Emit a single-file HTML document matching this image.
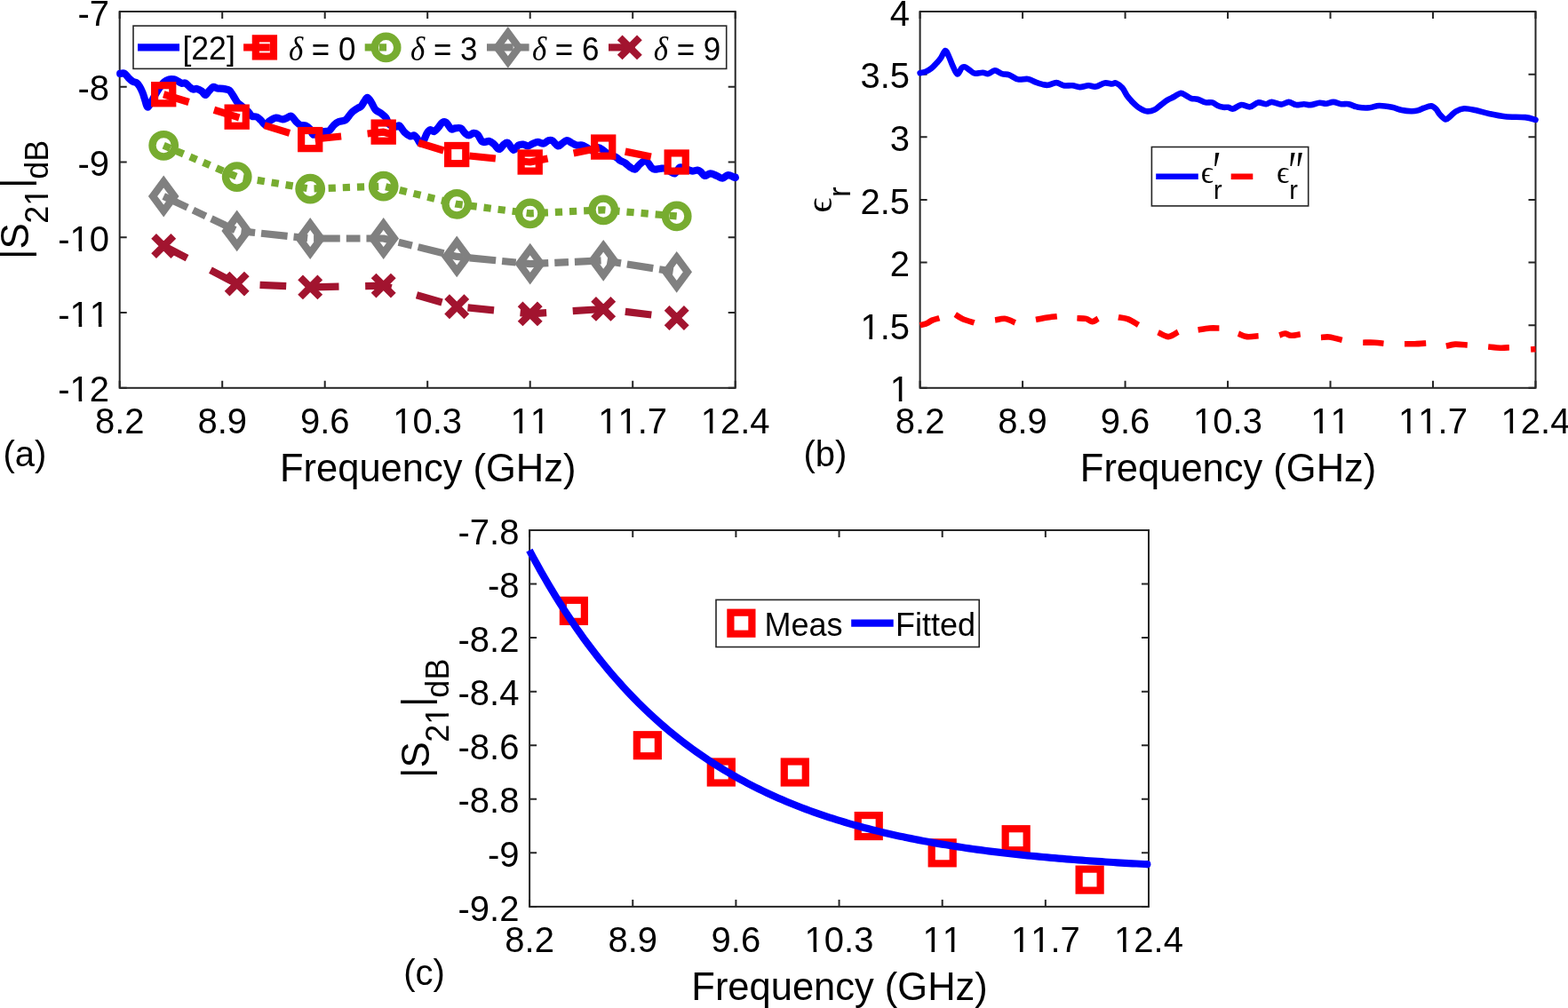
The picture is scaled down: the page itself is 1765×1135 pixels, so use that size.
<!DOCTYPE html><html><head><meta charset="utf-8"><title>Figure</title><style>html,body{margin:0;padding:0;background:#fff;}svg{display:block;}text{font-kerning:none;}</style></head><body>
<svg width="1765" height="1135" viewBox="0 0 1765 1135">
<rect width="1765" height="1135" fill="#fff"/>
<path d="M134.7,436.8V428.8M134.7,13V21M250.2,436.8V428.8M250.2,13V21M365.7,436.8V428.8M365.7,13V21M481.2,436.8V428.8M481.2,13V21M596.7,436.8V428.8M596.7,13V21M712.2,436.8V428.8M712.2,13V21M827.7,436.8V428.8M827.7,13V21M134.7,436.8H142.7M827.7,436.8H819.7M134.7,352.04H142.7M827.7,352.04H819.7M134.7,267.28H142.7M827.7,267.28H819.7M134.7,182.52H142.7M827.7,182.52H819.7M134.7,97.76H142.7M827.7,97.76H819.7M134.7,13H142.7M827.7,13H819.7" stroke="#262626" stroke-width="2" fill="none"/>
<rect x="134.7" y="13" width="693" height="423.8" stroke="#262626" stroke-width="2" fill="none"/>
<g font-family="'Liberation Sans', Arial, Helvetica, sans-serif" font-size="40" fill="#000"><text transform="translate(106.9,488.2) scale(1,1.035)">8.2</text><text transform="translate(222.4,488.2) scale(1,1.035)">8.9</text><text transform="translate(337.9,488.2) scale(1,1.035)">9.6</text><text transform="translate(442.27,488.2) scale(1,1.035)">10.3</text><g transform="translate(442.27,488.2) scale(1,1.035)" fill="#fff"><rect x="2.25" y="-3.34" width="7.78" height="4.54"/><rect x="13.62" y="-3.34" width="7.5" height="4.54"/></g><text transform="translate(574.45,488.2) scale(1,1.035)">11</text><g transform="translate(574.45,488.2) scale(1,1.035)" fill="#fff"><rect x="2.25" y="-3.34" width="7.78" height="4.54"/><rect x="13.62" y="-3.34" width="7.5" height="4.54"/><rect x="24.5" y="-3.34" width="7.78" height="4.54"/><rect x="35.87" y="-3.34" width="7.5" height="4.54"/></g><text transform="translate(673.27,488.2) scale(1,1.035)">11.7</text><g transform="translate(673.27,488.2) scale(1,1.035)" fill="#fff"><rect x="2.25" y="-3.34" width="7.78" height="4.54"/><rect x="13.62" y="-3.34" width="7.5" height="4.54"/><rect x="24.5" y="-3.34" width="7.78" height="4.54"/><rect x="35.87" y="-3.34" width="7.5" height="4.54"/></g><text transform="translate(788.77,488.2) scale(1,1.035)">12.4</text><g transform="translate(788.77,488.2) scale(1,1.035)" fill="#fff"><rect x="2.25" y="-3.34" width="7.78" height="4.54"/><rect x="13.62" y="-3.34" width="7.5" height="4.54"/></g><text transform="translate(65.27,452.4) scale(1,1.035)">-12</text><g transform="translate(65.27,452.4) scale(1,1.035)" fill="#fff"><rect x="15.58" y="-3.34" width="7.78" height="4.54"/><rect x="26.95" y="-3.34" width="7.5" height="4.54"/></g><text transform="translate(65.27,367.64) scale(1,1.035)">-11</text><g transform="translate(65.27,367.64) scale(1,1.035)" fill="#fff"><rect x="15.58" y="-3.34" width="7.78" height="4.54"/><rect x="26.95" y="-3.34" width="7.5" height="4.54"/><rect x="37.83" y="-3.34" width="7.78" height="4.54"/><rect x="49.2" y="-3.34" width="7.5" height="4.54"/></g><text transform="translate(65.27,282.88) scale(1,1.035)">-10</text><g transform="translate(65.27,282.88) scale(1,1.035)" fill="#fff"><rect x="15.58" y="-3.34" width="7.78" height="4.54"/><rect x="26.95" y="-3.34" width="7.5" height="4.54"/></g><text transform="translate(87.52,198.12) scale(1,1.035)">-9</text><text transform="translate(87.52,113.36) scale(1,1.035)">-8</text><text transform="translate(87.52,28.6) scale(1,1.035)">-7</text></g>
<text transform="translate(481.7,542.1) scale(1,1.035)" font-family="'Liberation Sans', Arial, Helvetica, sans-serif" font-size="43.5" text-anchor="middle">Frequency (GHz)</text>
<g>
<path d="M135.2,82.9C136,82.85 138.42,81.8 140,82.6C141.58,83.4 143.12,86.17 144.7,87.7C146.28,89.23 148.02,90.9 149.5,91.8C150.98,92.7 152.35,92.2 153.6,93.1C154.85,94 155.87,95.38 157,97.2C158.13,99.02 159.38,101.52 160.4,104C161.42,106.48 162.2,109.38 163.1,112.1C164,114.82 164.78,119.5 165.8,120.3C166.82,121.1 167.83,118.95 169.2,116.9C170.57,114.85 172.3,110.95 174,108C175.7,105.05 177.6,101.8 179.4,99.2C181.2,96.6 182.98,94.03 184.8,92.4C186.62,90.77 188.48,89.9 190.3,89.4C192.12,88.9 194.12,89.12 195.7,89.4C197.28,89.68 198.33,90.37 199.8,91.1C201.27,91.83 203.03,93.4 204.5,93.8C205.97,94.2 207.12,92.82 208.6,93.5C210.08,94.18 211.92,96.72 213.4,97.9C214.88,99.08 216.15,100.27 217.5,100.6C218.85,100.93 219.92,99.57 221.5,99.9C223.08,100.23 225.42,101.42 227,102.6C228.58,103.78 229.65,107 231,107C232.35,107 233.62,104.12 235.1,102.6C236.58,101.08 238.33,98.42 239.9,97.9C241.47,97.38 242.67,99.17 244.5,99.5C246.33,99.83 248.63,99.53 250.9,99.9C253.17,100.27 256.13,100.33 258.1,101.7C260.07,103.07 261.18,105.83 262.7,108.1C264.22,110.37 265.55,113.33 267.2,115.3C268.85,117.27 270.63,118.23 272.6,119.9C274.57,121.57 277.18,123.5 279,125.3C280.82,127.1 281.83,129.65 283.5,130.7C285.17,131.75 287.33,130.83 289,131.6C290.67,132.37 291.85,133.78 293.5,135.3C295.15,136.82 297.23,140.55 298.9,140.7C300.57,140.85 301.53,137.55 303.5,136.2C305.47,134.85 308.28,132.9 310.7,132.6C313.12,132.3 315.88,134.4 318,134.4C320.12,134.4 321.75,133.22 323.4,132.6C325.05,131.98 326.23,129.95 327.9,130.7C329.57,131.45 331.73,135.43 333.4,137.1C335.07,138.77 336.08,139.95 337.9,140.7C339.72,141.45 342.48,140.85 344.3,141.6C346.12,142.35 347.45,143.53 348.8,145.2C350.15,146.87 350.88,150.83 352.4,151.6C353.92,152.37 355.78,150.4 357.9,149.8C360.02,149.2 362.98,148.45 365.1,148C367.22,147.55 368.78,148.32 370.6,147.1C372.42,145.88 374.2,142.37 376,140.7C377.8,139.03 379.28,138 381.4,137.1C383.52,136.2 386.58,136.67 388.7,135.3C390.82,133.93 392.67,130.57 394.1,128.9C395.53,127.23 395.87,126.5 397.3,125.3C398.73,124.1 401.2,122.6 402.7,121.7C404.2,120.8 405.1,121.1 406.3,119.9C407.5,118.7 408.68,116.17 409.9,114.5C411.12,112.83 412.23,109.75 413.6,109.9C414.97,110.05 416.6,113.13 418.1,115.4C419.6,117.67 420.93,121.55 422.6,123.5C424.27,125.45 426.13,125.58 428.1,127.1C430.07,128.62 432.75,130.48 434.4,132.6C436.05,134.72 436.07,138.15 438,139.8C439.93,141.45 444.03,142.2 446,142.5C447.97,142.8 448.25,140.53 449.8,141.6C451.35,142.67 453.33,146.93 455.3,148.9C457.27,150.87 459.78,152.8 461.6,153.4C463.42,154 464.83,152.03 466.2,152.5C467.57,152.97 468.6,154.68 469.8,156.2C471,157.72 472.2,161.3 473.4,161.6C474.6,161.9 475.78,159.97 477,158C478.22,156.03 479.48,151.77 480.7,149.8C481.92,147.83 482.95,146.5 484.3,146.2C485.65,145.9 487.28,148.45 488.8,148C490.32,147.55 491.88,145.17 493.4,143.5C494.92,141.83 496.4,138.92 497.9,138C499.4,137.08 500.73,136.78 502.4,138C504.07,139.22 506.23,144.23 507.9,145.3C509.57,146.37 510.6,144.55 512.4,144.4C514.2,144.25 516.88,143.5 518.7,144.4C520.52,145.3 521.78,148.45 523.3,149.8C524.82,151.15 526.15,152.5 527.8,152.5C529.45,152.5 531.53,149.95 533.2,149.8C534.87,149.65 536.13,149.93 537.8,151.6C539.47,153.27 541.02,158.57 543.2,159.8C545.38,161.03 548.72,158.53 550.9,159C553.08,159.47 554.48,161.1 556.3,162.6C558.12,164.1 559.98,168 561.8,168C563.62,168 565.55,163.8 567.2,162.6C568.85,161.4 569.88,159.75 571.7,160.8C573.52,161.85 576.13,168.45 578.1,168.9C580.07,169.35 581.68,164.55 583.5,163.5C585.32,162.45 587.18,162.45 589,162.6C590.82,162.75 592.6,164.55 594.4,164.4C596.2,164.25 597.98,162.45 599.8,161.7C601.62,160.95 603.33,159.9 605.3,159.9C607.27,159.9 609.63,161.97 611.6,161.7C613.57,161.43 615.43,158.87 617.1,158.3C618.77,157.73 619.8,157.28 621.6,158.3C623.4,159.32 626.08,163.83 627.9,164.4C629.72,164.97 630.83,162.77 632.5,161.7C634.17,160.63 636.08,158.15 637.9,158C639.72,157.85 641.58,159.88 643.4,160.8C645.22,161.72 646.85,163.05 648.8,163.5C650.75,163.95 653.13,163.05 655.1,163.5C657.07,163.95 658.63,165.15 660.6,166.2C662.57,167.25 664.78,169.8 666.9,169.8C669.02,169.8 671.33,166.35 673.3,166.2C675.27,166.05 676.83,167.68 678.7,168.9C680.57,170.12 682.02,172.13 684.5,173.5C686.98,174.87 691.33,175.88 693.6,177.1C695.87,178.32 696.43,179.73 698.1,180.8C699.77,181.87 701.78,182.3 703.6,183.5C705.42,184.7 707.18,186.8 709,188C710.82,189.2 712.83,191 714.5,190.7C716.17,190.4 717.35,187.7 719,186.2C720.65,184.7 722.73,182.3 724.4,181.7C726.07,181.1 727.48,181.4 729,182.6C730.52,183.8 732.15,187.55 733.5,188.9C734.85,190.25 735.43,190.55 737.1,190.7C738.77,190.85 741.53,189.95 743.5,189.8C745.47,189.65 746.95,189.18 748.9,189.8C750.85,190.42 753.38,192.58 755.2,193.5C757.02,194.42 758.13,196.13 759.8,195.3C761.47,194.47 763.5,189.38 765.2,188.5C766.9,187.62 768.18,189.48 770,190C771.82,190.52 774.48,191.17 776.1,191.6C777.72,192.03 778.18,192.6 779.7,192.6C781.22,192.6 783.68,191.45 785.2,191.6C786.72,191.75 787.45,192.43 788.8,193.5C790.15,194.57 791.48,197.7 793.3,198C795.12,198.3 797.43,195.3 799.7,195.3C801.97,195.3 804.63,197.1 806.9,198C809.17,198.9 811.18,200.85 813.3,200.7C815.42,200.55 817.33,197.25 819.6,197.1C821.87,196.95 825.55,199.38 826.9,199.8C828.25,200.22 827.57,199.63 827.7,199.6" fill="none" stroke="#0000ff" stroke-width="8.2" stroke-linecap="round" stroke-linejoin="round"/>
<polyline points="184.2,106.24 266.7,131.66 349.2,157.09 431.7,148.62 514.2,174.04 596.7,182.52 679.2,165.57 761.7,182.52" fill="none" stroke="#ff0000" stroke-width="8.2" stroke-linecap="butt" stroke-linejoin="round" stroke-dasharray="29.7,29.65" stroke-dashoffset="0"/>
<rect x="174.13" y="96.17" width="20.14" height="20.14" fill="none" stroke="#ff0000" stroke-width="8.2"/>
<rect x="256.63" y="121.59" width="20.14" height="20.14" fill="none" stroke="#ff0000" stroke-width="8.2"/>
<rect x="339.13" y="147.02" width="20.14" height="20.14" fill="none" stroke="#ff0000" stroke-width="8.2"/>
<rect x="421.63" y="138.55" width="20.14" height="20.14" fill="none" stroke="#ff0000" stroke-width="8.2"/>
<rect x="504.13" y="163.97" width="20.14" height="20.14" fill="none" stroke="#ff0000" stroke-width="8.2"/>
<rect x="586.63" y="172.45" width="20.14" height="20.14" fill="none" stroke="#ff0000" stroke-width="8.2"/>
<rect x="669.13" y="155.5" width="20.14" height="20.14" fill="none" stroke="#ff0000" stroke-width="8.2"/>
<rect x="751.63" y="172.45" width="20.14" height="20.14" fill="none" stroke="#ff0000" stroke-width="8.2"/>
<polyline points="184.2,163.8 266.7,199.1 349.2,212.6 431.7,209.6 514.2,229.8 596.7,240.3 679.2,236.3 761.7,243.4" fill="none" stroke="#77ac30" stroke-width="8.2" stroke-linecap="butt" stroke-linejoin="round" stroke-dasharray="8.2,7.95" stroke-dashoffset="0"/>
<circle cx="184.2" cy="163.8" r="12.7" fill="none" stroke="#77ac30" stroke-width="8.4"/>
<circle cx="266.7" cy="199.1" r="12.7" fill="none" stroke="#77ac30" stroke-width="8.4"/>
<circle cx="349.2" cy="212.6" r="12.7" fill="none" stroke="#77ac30" stroke-width="8.4"/>
<circle cx="431.7" cy="209.6" r="12.7" fill="none" stroke="#77ac30" stroke-width="8.4"/>
<circle cx="514.2" cy="229.8" r="12.7" fill="none" stroke="#77ac30" stroke-width="8.4"/>
<circle cx="596.7" cy="240.3" r="12.7" fill="none" stroke="#77ac30" stroke-width="8.4"/>
<circle cx="679.2" cy="236.3" r="12.7" fill="none" stroke="#77ac30" stroke-width="8.4"/>
<circle cx="761.7" cy="243.4" r="12.7" fill="none" stroke="#77ac30" stroke-width="8.4"/>
<polyline points="184.2,221 266.7,259.9 349.2,268.5 431.7,268.5 514.2,288.9 596.7,297.1 679.2,293.3 761.7,306.3" fill="none" stroke="#808080" stroke-width="8.2" stroke-linecap="butt" stroke-linejoin="round" stroke-dasharray="29.7,7,15.7,6.95" stroke-dashoffset="0"/>
<path d="M184.2,204.5L196.4,221L184.2,237.5L172,221Z" fill="none" stroke="#808080" stroke-width="8.2" stroke-linejoin="miter" stroke-miterlimit="10"/>
<path d="M266.7,243.4L278.9,259.9L266.7,276.4L254.5,259.9Z" fill="none" stroke="#808080" stroke-width="8.2" stroke-linejoin="miter" stroke-miterlimit="10"/>
<path d="M349.2,252L361.4,268.5L349.2,285L337,268.5Z" fill="none" stroke="#808080" stroke-width="8.2" stroke-linejoin="miter" stroke-miterlimit="10"/>
<path d="M431.7,252L443.9,268.5L431.7,285L419.5,268.5Z" fill="none" stroke="#808080" stroke-width="8.2" stroke-linejoin="miter" stroke-miterlimit="10"/>
<path d="M514.2,272.4L526.4,288.9L514.2,305.4L502,288.9Z" fill="none" stroke="#808080" stroke-width="8.2" stroke-linejoin="miter" stroke-miterlimit="10"/>
<path d="M596.7,280.6L608.9,297.1L596.7,313.6L584.5,297.1Z" fill="none" stroke="#808080" stroke-width="8.2" stroke-linejoin="miter" stroke-miterlimit="10"/>
<path d="M679.2,276.8L691.4,293.3L679.2,309.8L667,293.3Z" fill="none" stroke="#808080" stroke-width="8.2" stroke-linejoin="miter" stroke-miterlimit="10"/>
<path d="M761.7,289.8L773.9,306.3L761.7,322.8L749.5,306.3Z" fill="none" stroke="#808080" stroke-width="8.2" stroke-linejoin="miter" stroke-miterlimit="10"/>
<polyline points="184.2,277 266.7,319.6 349.2,323.4 431.7,321.6 514.2,345.2 596.7,353.4 679.2,347.9 761.7,358" fill="none" stroke="#a2142f" stroke-width="8.2" stroke-linecap="butt" stroke-linejoin="round" stroke-dasharray="29.7,29.65" stroke-dashoffset="0"/>
<path d="M173.1,265.9L195.3,288.1M173.1,288.1L195.3,265.9" fill="none" stroke="#a2142f" stroke-width="8.1" stroke-linecap="butt"/>
<path d="M255.6,308.5L277.8,330.7M255.6,330.7L277.8,308.5" fill="none" stroke="#a2142f" stroke-width="8.1" stroke-linecap="butt"/>
<path d="M338.1,312.3L360.3,334.5M338.1,334.5L360.3,312.3" fill="none" stroke="#a2142f" stroke-width="8.1" stroke-linecap="butt"/>
<path d="M420.6,310.5L442.8,332.7M420.6,332.7L442.8,310.5" fill="none" stroke="#a2142f" stroke-width="8.1" stroke-linecap="butt"/>
<path d="M503.1,334.1L525.3,356.3M503.1,356.3L525.3,334.1" fill="none" stroke="#a2142f" stroke-width="8.1" stroke-linecap="butt"/>
<path d="M585.6,342.3L607.8,364.5M585.6,364.5L607.8,342.3" fill="none" stroke="#a2142f" stroke-width="8.1" stroke-linecap="butt"/>
<path d="M668.1,336.8L690.3,359M668.1,359L690.3,336.8" fill="none" stroke="#a2142f" stroke-width="8.1" stroke-linecap="butt"/>
<path d="M750.6,346.9L772.8,369.1M750.6,369.1L772.8,346.9" fill="none" stroke="#a2142f" stroke-width="8.1" stroke-linecap="butt"/>
</g>
<rect x="150" y="29.1" width="667.7" height="48.3" fill="#fff" stroke="#262626" stroke-width="1.6"/>
<polyline points="155,53.4 202,53.4" fill="none" stroke="#0000ff" stroke-width="8.2" stroke-linecap="butt" stroke-linejoin="round"/>
<text transform="translate(205.4,66.8) scale(1,1.035)" font-family="'Liberation Sans', Arial, Helvetica, sans-serif" font-size="35.6">[22]</text>
<polyline points="274.1,53.4 321.7,53.4" fill="none" stroke="#ff0000" stroke-width="8.2" stroke-linecap="butt" stroke-linejoin="round" stroke-dasharray="29.7,29.65" stroke-dashoffset="0"/>
<rect x="287.83" y="43.33" width="20.14" height="20.14" fill="none" stroke="#ff0000" stroke-width="8.2"/>
<text transform="translate(324.9,68.2) scale(0.981,1.045)" font-family="'Liberation Sans', Arial, Helvetica, sans-serif" font-size="35.6"><tspan font-family="'Liberation Serif', 'Times New Roman', serif" font-style="italic">δ</tspan> = 0</text>
<polyline points="410.7,53.4 458.3,53.4" fill="none" stroke="#77ac30" stroke-width="8.2" stroke-linecap="butt" stroke-linejoin="round" stroke-dasharray="8.2,7.95" stroke-dashoffset="0"/>
<circle cx="434.5" cy="53.4" r="12.7" fill="none" stroke="#77ac30" stroke-width="8.4"/>
<text transform="translate(462,68.2) scale(0.981,1.045)" font-family="'Liberation Sans', Arial, Helvetica, sans-serif" font-size="35.6"><tspan font-family="'Liberation Serif', 'Times New Roman', serif" font-style="italic">δ</tspan> = 3</text>
<polyline points="548,53.4 595.6,53.4" fill="none" stroke="#808080" stroke-width="8.2" stroke-linecap="butt" stroke-linejoin="round" stroke-dasharray="29.7,7,15.7,6.95" stroke-dashoffset="0"/>
<path d="M571.8,36.9L584,53.4L571.8,69.9L559.6,53.4Z" fill="none" stroke="#808080" stroke-width="8.2" stroke-linejoin="miter" stroke-miterlimit="10"/>
<text transform="translate(598.9,68.2) scale(0.981,1.045)" font-family="'Liberation Sans', Arial, Helvetica, sans-serif" font-size="35.6"><tspan font-family="'Liberation Serif', 'Times New Roman', serif" font-style="italic">δ</tspan> = 6</text>
<polyline points="685,53.4 732.6,53.4" fill="none" stroke="#a2142f" stroke-width="8.2" stroke-linecap="butt" stroke-linejoin="round" stroke-dasharray="29.7,29.65" stroke-dashoffset="0"/>
<path d="M697.7,42.3L719.9,64.5M697.7,64.5L719.9,42.3" fill="none" stroke="#a2142f" stroke-width="8.1" stroke-linecap="butt"/>
<text transform="translate(735.8,68.2) scale(0.981,1.045)" font-family="'Liberation Sans', Arial, Helvetica, sans-serif" font-size="35.6"><tspan font-family="'Liberation Serif', 'Times New Roman', serif" font-style="italic">δ</tspan> = 9</text>
<g transform="translate(0,0) rotate(-90)" font-family="'Liberation Sans', Arial, Helvetica, sans-serif"><text x="-292.0" y="32.3" font-size="44">|S</text><text transform="translate(-251.7,53.9)" font-size="36">21</text><g transform="translate(-251.7,53.9)" fill="#fff"><rect x="21.96" y="-3.04" width="7.08" height="4.24"/><rect x="32.28" y="-3.04" width="6.83" height="4.24"/></g><text x="-212.0" y="32.3" font-size="44">|</text><text x="-201.7" y="53.9" font-size="36">dB</text></g>
<text x="3.5" y="525.3" font-family="'Liberation Sans', Arial, Helvetica, sans-serif" font-size="40">(a)</text>
<path d="M1035.6,436.8V428.8M1035.6,13V21M1151.08,436.8V428.8M1151.08,13V21M1266.57,436.8V428.8M1266.57,13V21M1382.05,436.8V428.8M1382.05,13V21M1497.53,436.8V428.8M1497.53,13V21M1613.02,436.8V428.8M1613.02,13V21M1728.5,436.8V428.8M1728.5,13V21M1035.6,436.8H1043.6M1728.5,436.8H1720.5M1035.6,366.17H1043.6M1728.5,366.17H1720.5M1035.6,295.53H1043.6M1728.5,295.53H1720.5M1035.6,224.9H1043.6M1728.5,224.9H1720.5M1035.6,154.27H1043.6M1728.5,154.27H1720.5M1035.6,83.63H1043.6M1728.5,83.63H1720.5M1035.6,13H1043.6M1728.5,13H1720.5" stroke="#262626" stroke-width="2" fill="none"/>
<rect x="1035.6" y="13" width="692.9" height="423.8" stroke="#262626" stroke-width="2" fill="none"/>
<g font-family="'Liberation Sans', Arial, Helvetica, sans-serif" font-size="40" fill="#000"><text transform="translate(1007.8,488.2) scale(1,1.035)">8.2</text><text transform="translate(1123.28,488.2) scale(1,1.035)">8.9</text><text transform="translate(1238.76,488.2) scale(1,1.035)">9.6</text><text transform="translate(1343.12,488.2) scale(1,1.035)">10.3</text><g transform="translate(1343.12,488.2) scale(1,1.035)" fill="#fff"><rect x="2.25" y="-3.34" width="7.78" height="4.54"/><rect x="13.62" y="-3.34" width="7.5" height="4.54"/></g><text transform="translate(1475.28,488.2) scale(1,1.035)">11</text><g transform="translate(1475.28,488.2) scale(1,1.035)" fill="#fff"><rect x="2.25" y="-3.34" width="7.78" height="4.54"/><rect x="13.62" y="-3.34" width="7.5" height="4.54"/><rect x="24.5" y="-3.34" width="7.78" height="4.54"/><rect x="35.87" y="-3.34" width="7.5" height="4.54"/></g><text transform="translate(1574.09,488.2) scale(1,1.035)">11.7</text><g transform="translate(1574.09,488.2) scale(1,1.035)" fill="#fff"><rect x="2.25" y="-3.34" width="7.78" height="4.54"/><rect x="13.62" y="-3.34" width="7.5" height="4.54"/><rect x="24.5" y="-3.34" width="7.78" height="4.54"/><rect x="35.87" y="-3.34" width="7.5" height="4.54"/></g><text transform="translate(1689.57,488.2) scale(1,1.035)">12.4</text><g transform="translate(1689.57,488.2) scale(1,1.035)" fill="#fff"><rect x="2.25" y="-3.34" width="7.78" height="4.54"/><rect x="13.62" y="-3.34" width="7.5" height="4.54"/></g><text transform="translate(1001.75,452.4) scale(1,1.035)">1</text><g transform="translate(1001.75,452.4) scale(1,1.035)" fill="#fff"><rect x="2.25" y="-3.34" width="7.78" height="4.54"/><rect x="13.62" y="-3.34" width="7.5" height="4.54"/></g><text transform="translate(968.39,381.77) scale(1,1.035)">1.5</text><g transform="translate(968.39,381.77) scale(1,1.035)" fill="#fff"><rect x="2.25" y="-3.34" width="7.78" height="4.54"/><rect x="13.62" y="-3.34" width="7.5" height="4.54"/></g><text transform="translate(1001.75,311.13) scale(1,1.035)">2</text><text transform="translate(968.39,240.5) scale(1,1.035)">2.5</text><text transform="translate(1001.75,169.87) scale(1,1.035)">3</text><text transform="translate(968.39,99.23) scale(1,1.035)">3.5</text><text transform="translate(1001.75,28.6) scale(1,1.035)">4</text></g>
<text transform="translate(1382.55,542.1) scale(1,1.035)" font-family="'Liberation Sans', Arial, Helvetica, sans-serif" font-size="43.5" text-anchor="middle">Frequency (GHz)</text>
<path d="M1035.6,82.2C1036.63,81.97 1039.72,81.63 1041.8,80.8C1043.88,79.97 1045.98,78.87 1048.1,77.2C1050.22,75.53 1052.68,72.77 1054.5,70.8C1056.32,68.83 1057.42,67.68 1059,65.4C1060.58,63.12 1062.48,57.4 1064,57.1C1065.52,56.8 1066.67,60.7 1068.1,63.6C1069.53,66.5 1071.02,71.18 1072.6,74.5C1074.18,77.82 1075.93,83.2 1077.6,83.5C1079.27,83.8 1081.17,77.65 1082.6,76.3C1084.03,74.95 1084.7,74.95 1086.2,75.4C1087.7,75.85 1089.78,77.8 1091.6,79C1093.42,80.2 1094.67,82.15 1097.1,82.6C1099.53,83.05 1103.63,81.62 1106.2,81.7C1108.77,81.78 1110.23,83.48 1112.5,83.1C1114.77,82.72 1117.23,79.4 1119.8,79.4C1122.37,79.4 1125.18,82.27 1127.9,83.1C1130.62,83.93 1133.08,83.35 1136.1,84.4C1139.12,85.45 1142.53,88.63 1146,89.4C1149.47,90.17 1153.57,88.47 1156.9,89C1160.23,89.53 1163.28,91.62 1166,92.6C1168.72,93.58 1170.93,94.37 1173.2,94.9C1175.47,95.43 1176.95,96.1 1179.6,95.8C1182.25,95.5 1186.17,93.02 1189.1,93.1C1192.03,93.18 1194.18,95.77 1197.2,96.3C1200.22,96.83 1204.17,96 1207.2,96.3C1210.23,96.6 1212.38,98.1 1215.4,98.1C1218.42,98.1 1222.28,96.38 1225.3,96.3C1228.32,96.22 1230.47,98.07 1233.5,97.6C1236.53,97.13 1240.48,94.02 1243.5,93.5C1246.52,92.98 1249.48,94.5 1251.6,94.5C1253.72,94.5 1254.23,92.75 1256.2,93.5C1258.17,94.25 1261.3,96.58 1263.4,99C1265.5,101.42 1266.83,105.28 1268.8,108C1270.77,110.72 1272.93,113.03 1275.2,115.3C1277.47,117.57 1279.83,119.93 1282.4,121.6C1284.97,123.27 1287.72,124.98 1290.6,125.3C1293.48,125.62 1296.98,124.72 1299.7,123.5C1302.42,122.28 1304.48,119.82 1306.9,118C1309.32,116.18 1311.78,114.1 1314.2,112.6C1316.62,111.1 1318.98,110.28 1321.4,109C1323.82,107.72 1326.52,105.2 1328.7,104.9C1330.88,104.6 1332.47,106.22 1334.5,107.2C1336.53,108.18 1338.63,110.05 1340.9,110.8C1343.17,111.55 1345.38,110.93 1348.1,111.7C1350.82,112.47 1354.47,114.78 1357.2,115.4C1359.93,116.02 1362.23,114.8 1364.5,115.4C1366.77,116 1368.7,118.1 1370.8,119C1372.9,119.9 1375.13,120.5 1377.1,120.8C1379.07,121.1 1380.78,120.5 1382.6,120.8C1384.42,121.1 1385.58,123.05 1388,122.6C1390.42,122.15 1393.92,118.48 1397.1,118.1C1400.28,117.72 1403.93,120.75 1407.1,120.3C1410.27,119.85 1413.08,115.92 1416.1,115.4C1419.12,114.88 1422.63,117.28 1425.2,117.2C1427.77,117.12 1428.63,114.83 1431.5,114.9C1434.37,114.97 1439.22,117.6 1442.4,117.6C1445.58,117.6 1447.88,114.82 1450.6,114.9C1453.32,114.98 1455.83,117.72 1458.7,118.1C1461.57,118.48 1465.07,117.2 1467.8,117.2C1470.53,117.2 1472.17,118.33 1475.1,118.1C1478.03,117.87 1482.47,116.03 1485.4,115.8C1488.33,115.57 1490.12,116.85 1492.7,116.7C1495.28,116.55 1498.03,114.82 1500.9,114.9C1503.77,114.98 1507.03,116.82 1509.9,117.2C1512.77,117.58 1514.92,116.6 1518.1,117.2C1521.28,117.8 1525.08,120.12 1529,120.8C1532.92,121.48 1537.68,121.6 1541.6,121.3C1545.52,121 1548.27,119.08 1552.5,119C1556.73,118.92 1562.77,119.97 1567,120.8C1571.23,121.63 1574.27,123.25 1577.9,124C1581.53,124.75 1585.78,125.23 1588.8,125.3C1591.82,125.37 1593.68,125 1596,124.4C1598.32,123.8 1600.22,122.53 1602.7,121.7C1605.18,120.87 1608.63,119.25 1610.9,119.4C1613.17,119.55 1614.65,121 1616.3,122.6C1617.95,124.2 1618.98,127.03 1620.8,129C1622.62,130.97 1625.23,134.1 1627.2,134.4C1629.17,134.7 1630.63,132.32 1632.6,130.8C1634.57,129.28 1636.43,126.73 1639,125.3C1641.57,123.87 1644.38,122.42 1648,122.2C1651.62,121.98 1656.02,123.03 1660.7,124C1665.38,124.97 1670.5,126.8 1676.1,128C1681.7,129.2 1687.5,130.52 1694.3,131.2C1701.1,131.88 1711.2,131.48 1716.9,132.1C1722.6,132.72 1726.57,134.43 1728.5,134.9" fill="none" stroke="#0000ff" stroke-width="6.6" stroke-linecap="round" stroke-linejoin="round"/>
<path d="M1035.7,366.3C1037.02,365.92 1041.33,364.95 1043.6,364C1045.87,363.05 1047,361.58 1049.3,360.6C1051.6,359.62 1056.05,358.52 1057.4,358.1" fill="none" stroke="#ff0000" stroke-width="6.6" stroke-linecap="butt" stroke-linejoin="round"/>
<path d="M1075.3,354C1076.63,354.82 1079.75,357.33 1083.3,358.9C1086.85,360.47 1094.38,362.65 1096.6,363.4" fill="none" stroke="#ff0000" stroke-width="6.6" stroke-linecap="butt" stroke-linejoin="round"/>
<path d="M1120.1,360.4C1122.08,360.15 1128.23,358.4 1132,358.9C1135.77,359.4 1140.92,362.65 1142.7,363.4" fill="none" stroke="#ff0000" stroke-width="6.6" stroke-linecap="butt" stroke-linejoin="round"/>
<path d="M1166,360C1167.88,359.63 1173.33,358.42 1177.3,357.8C1181.27,357.18 1187.72,356.55 1189.8,356.3" fill="none" stroke="#ff0000" stroke-width="6.6" stroke-linecap="butt" stroke-linejoin="round"/>
<path d="M1212.4,358.3C1214.1,358.4 1219.73,358.27 1222.6,358.9C1225.47,359.53 1227.35,362.13 1229.6,362.1C1231.85,362.07 1235.02,359.27 1236.1,358.7" fill="none" stroke="#ff0000" stroke-width="6.6" stroke-linecap="butt" stroke-linejoin="round"/>
<path d="M1258.9,357.2C1260.73,357.55 1266.13,357.87 1269.9,359.3C1273.67,360.73 1279.57,364.72 1281.5,365.8" fill="none" stroke="#ff0000" stroke-width="6.6" stroke-linecap="butt" stroke-linejoin="round"/>
<path d="M1303.6,374.2C1305.53,375.02 1311.43,379.17 1315.2,379.1C1318.97,379.03 1324.37,374.68 1326.2,373.8" fill="none" stroke="#ff0000" stroke-width="6.6" stroke-linecap="butt" stroke-linejoin="round"/>
<path d="M1348.6,371.5C1350.77,371.17 1357.63,369.83 1361.6,369.5C1365.57,369.17 1370.6,369.5 1372.4,369.5" fill="none" stroke="#ff0000" stroke-width="6.6" stroke-linecap="butt" stroke-linejoin="round"/>
<path d="M1393.9,375.7C1395.52,376.27 1399.82,378.67 1403.6,379.1C1407.38,379.53 1414.43,378.43 1416.6,378.3" fill="none" stroke="#ff0000" stroke-width="6.6" stroke-linecap="butt" stroke-linejoin="round"/>
<path d="M1440.2,377.5C1441.25,377.17 1444.32,375.45 1446.5,375.5C1448.68,375.55 1450.43,377.67 1453.3,377.8C1456.17,377.93 1461.97,376.55 1463.7,376.3" fill="none" stroke="#ff0000" stroke-width="6.6" stroke-linecap="butt" stroke-linejoin="round"/>
<path d="M1487,380C1488.55,379.92 1492.35,379.02 1496.3,379.5C1500.25,379.98 1508.3,382.33 1510.7,382.9" fill="none" stroke="#ff0000" stroke-width="6.6" stroke-linecap="butt" stroke-linejoin="round"/>
<path d="M1534.2,385.7C1536.38,385.7 1543.42,385.52 1547.3,385.7C1551.18,385.88 1555.8,386.62 1557.5,386.8" fill="none" stroke="#ff0000" stroke-width="6.6" stroke-linecap="butt" stroke-linejoin="round"/>
<path d="M1581,387.2C1582.95,387.2 1588.67,387.32 1592.7,387.2C1596.73,387.08 1603.12,386.62 1605.2,386.5" fill="none" stroke="#ff0000" stroke-width="6.6" stroke-linecap="butt" stroke-linejoin="round"/>
<path d="M1627.9,389.7C1629.58,389.35 1634.02,387.8 1638,387.6C1641.98,387.4 1649.5,388.35 1651.8,388.5" fill="none" stroke="#ff0000" stroke-width="6.6" stroke-linecap="butt" stroke-linejoin="round"/>
<path d="M1675.2,390.5C1677.47,390.7 1684.85,391.57 1688.8,391.7C1692.75,391.83 1697.22,391.37 1698.9,391.3" fill="none" stroke="#ff0000" stroke-width="6.6" stroke-linecap="butt" stroke-linejoin="round"/>
<path d="M1723.1,393.5C1724,393.43 1727.6,393.17 1728.5,393.1" fill="none" stroke="#ff0000" stroke-width="6.6" stroke-linecap="butt" stroke-linejoin="round"/>
<rect x="1296.4" y="165.5" width="176.3" height="66.4" fill="#fff" stroke="#262626" stroke-width="1.6"/>
<polyline points="1301.2,198.8 1348.8,198.8" fill="none" stroke="#0000ff" stroke-width="6.6" stroke-linecap="butt" stroke-linejoin="round"/>
<polyline points="1385.7,198.8 1410.3,198.8" fill="none" stroke="#ff0000" stroke-width="6.6" stroke-linecap="butt" stroke-linejoin="round"/>
<text x="1351.7" y="206.2" font-family="'Liberation Serif', 'Times New Roman', serif" font-size="35">ϵ</text>
<text transform="translate(1365.1,214.2) scale(1,1.45)" font-family="'Liberation Serif', 'Times New Roman', serif" font-size="44">′</text>
<text x="1366.0" y="224.0" font-family="'Liberation Sans', Arial, Helvetica, sans-serif" font-size="29">r</text>
<text x="1436.9" y="206.2" font-family="'Liberation Serif', 'Times New Roman', serif" font-size="35">ϵ</text>
<text transform="translate(1450.1,214.2) scale(1,1.45)" font-family="'Liberation Serif', 'Times New Roman', serif" font-size="44">″</text>
<text x="1451.2" y="224.0" font-family="'Liberation Sans', Arial, Helvetica, sans-serif" font-size="29">r</text>
<g transform="rotate(-90)"><text x="-239.5" y="935.5" font-family="'Liberation Serif', 'Times New Roman', serif" font-size="42">ϵ</text><text x="-222.1" y="956.7" font-family="'Liberation Sans', Arial, Helvetica, sans-serif" font-size="35">r</text></g>
<text x="904.5" y="525.3" font-family="'Liberation Sans', Arial, Helvetica, sans-serif" font-size="40">(b)</text>
<path d="M596.1,1020.9V1012.9M596.1,597V605M712.25,1020.9V1012.9M712.25,597V605M828.4,1020.9V1012.9M828.4,597V605M944.55,1020.9V1012.9M944.55,597V605M1060.7,1020.9V1012.9M1060.7,597V605M1176.85,1020.9V1012.9M1176.85,597V605M1293,1020.9V1012.9M1293,597V605M596.1,1020.9H604.1M1293,1020.9H1285M596.1,960.34H604.1M1293,960.34H1285M596.1,899.79H604.1M1293,899.79H1285M596.1,839.23H604.1M1293,839.23H1285M596.1,778.67H604.1M1293,778.67H1285M596.1,718.11H604.1M1293,718.11H1285M596.1,657.56H604.1M1293,657.56H1285M596.1,597H604.1M1293,597H1285" stroke="#262626" stroke-width="2" fill="none"/>
<rect x="596.1" y="597" width="696.9" height="423.9" stroke="#262626" stroke-width="2" fill="none"/>
<g font-family="'Liberation Sans', Arial, Helvetica, sans-serif" font-size="40" fill="#000"><text transform="translate(568.3,1072.3) scale(1,1.035)">8.2</text><text transform="translate(684.45,1072.3) scale(1,1.035)">8.9</text><text transform="translate(800.6,1072.3) scale(1,1.035)">9.6</text><text transform="translate(905.62,1072.3) scale(1,1.035)">10.3</text><g transform="translate(905.62,1072.3) scale(1,1.035)" fill="#fff"><rect x="2.25" y="-3.34" width="7.78" height="4.54"/><rect x="13.62" y="-3.34" width="7.5" height="4.54"/></g><text transform="translate(1038.45,1072.3) scale(1,1.035)">11</text><g transform="translate(1038.45,1072.3) scale(1,1.035)" fill="#fff"><rect x="2.25" y="-3.34" width="7.78" height="4.54"/><rect x="13.62" y="-3.34" width="7.5" height="4.54"/><rect x="24.5" y="-3.34" width="7.78" height="4.54"/><rect x="35.87" y="-3.34" width="7.5" height="4.54"/></g><text transform="translate(1137.92,1072.3) scale(1,1.035)">11.7</text><g transform="translate(1137.92,1072.3) scale(1,1.035)" fill="#fff"><rect x="2.25" y="-3.34" width="7.78" height="4.54"/><rect x="13.62" y="-3.34" width="7.5" height="4.54"/><rect x="24.5" y="-3.34" width="7.78" height="4.54"/><rect x="35.87" y="-3.34" width="7.5" height="4.54"/></g><text transform="translate(1254.07,1072.3) scale(1,1.035)">12.4</text><g transform="translate(1254.07,1072.3) scale(1,1.035)" fill="#fff"><rect x="2.25" y="-3.34" width="7.78" height="4.54"/><rect x="13.62" y="-3.34" width="7.5" height="4.54"/></g><text transform="translate(515.56,1036.5) scale(1,1.035)">-9.2</text><text transform="translate(548.92,975.94) scale(1,1.035)">-9</text><text transform="translate(515.56,915.39) scale(1,1.035)">-8.8</text><text transform="translate(515.56,854.83) scale(1,1.035)">-8.6</text><text transform="translate(515.56,794.27) scale(1,1.035)">-8.4</text><text transform="translate(515.56,733.71) scale(1,1.035)">-8.2</text><text transform="translate(548.92,673.16) scale(1,1.035)">-8</text><text transform="translate(515.56,612.6) scale(1,1.035)">-7.8</text></g>
<text transform="translate(945.05,1126.2) scale(1,1.035)" font-family="'Liberation Sans', Arial, Helvetica, sans-serif" font-size="43.5" text-anchor="middle">Frequency (GHz)</text>
<rect x="633.88" y="675.84" width="24" height="24" fill="none" stroke="#ff0000" stroke-width="8.2"/>
<rect x="716.84" y="827.23" width="24" height="24" fill="none" stroke="#ff0000" stroke-width="8.2"/>
<rect x="799.81" y="857.51" width="24" height="24" fill="none" stroke="#ff0000" stroke-width="8.2"/>
<rect x="882.77" y="857.51" width="24" height="24" fill="none" stroke="#ff0000" stroke-width="8.2"/>
<rect x="965.74" y="918.06" width="24" height="24" fill="none" stroke="#ff0000" stroke-width="8.2"/>
<rect x="1048.7" y="948.34" width="24" height="24" fill="none" stroke="#ff0000" stroke-width="8.2"/>
<rect x="1131.66" y="933.2" width="24" height="24" fill="none" stroke="#ff0000" stroke-width="8.2"/>
<rect x="1214.63" y="978.62" width="24" height="24" fill="none" stroke="#ff0000" stroke-width="8.2"/>
<polyline points="595.9,619.6 600.28,627.81 604.66,635.83 609.04,643.67 613.42,651.33 617.81,658.82 622.19,666.14 626.57,673.3 630.95,680.29 635.33,687.13 639.71,693.81 644.09,700.34 648.47,706.72 652.85,712.96 657.24,719.06 661.62,725.02 666,730.84 670.38,736.53 674.76,742.1 679.14,747.54 683.52,752.85 687.9,758.05 692.28,763.13 696.67,768.09 701.05,772.94 705.43,777.69 709.81,782.32 714.19,786.85 718.57,791.28 722.95,795.61 727.33,799.84 731.72,803.97 736.1,808.01 740.48,811.96 744.86,815.82 749.24,819.6 753.62,823.28 758,826.89 762.38,830.41 766.76,833.85 771.15,837.22 775.53,840.51 779.91,843.72 784.29,846.87 788.67,849.94 793.05,852.94 797.43,855.88 801.81,858.74 806.19,861.55 810.58,864.29 814.96,866.97 819.34,869.58 823.72,872.14 828.1,874.64 832.48,877.09 836.86,879.47 841.24,881.81 845.62,884.09 850.01,886.32 854.39,888.5 858.77,890.63 863.15,892.72 867.53,894.75 871.91,896.74 876.29,898.69 880.67,900.59 885.05,902.44 889.44,904.26 893.82,906.03 898.2,907.77 902.58,909.46 906.96,911.12 911.34,912.74 915.72,914.32 920.1,915.87 924.48,917.38 928.87,918.86 933.25,920.31 937.63,921.72 942.01,923.1 946.39,924.45 950.77,925.77 955.15,927.06 959.53,928.32 963.92,929.55 968.3,930.75 972.68,931.93 977.06,933.08 981.44,934.2 985.82,935.3 990.2,936.37 994.58,937.42 998.96,938.45 1003.35,939.45 1007.73,940.43 1012.11,941.39 1016.49,942.32 1020.87,943.24 1025.25,944.13 1029.63,945 1034.01,945.86 1038.39,946.69 1042.78,947.51 1047.16,948.31 1051.54,949.09 1055.92,949.85 1060.3,950.59 1064.68,951.32 1069.06,952.03 1073.44,952.73 1077.82,953.41 1082.21,954.07 1086.59,954.72 1090.97,955.35 1095.35,955.97 1099.73,956.58 1104.11,957.17 1108.49,957.75 1112.87,958.32 1117.25,958.87 1121.64,959.41 1126.02,959.94 1130.4,960.46 1134.78,960.96 1139.16,961.46 1143.54,961.94 1147.92,962.41 1152.3,962.87 1156.68,963.32 1161.07,963.76 1165.45,964.19 1169.83,964.61 1174.21,965.02 1178.59,965.42 1182.97,965.82 1187.35,966.2 1191.73,966.58 1196.12,966.94 1200.5,967.3 1204.88,967.65 1209.26,967.99 1213.64,968.33 1218.02,968.66 1222.4,968.98 1226.78,969.29 1231.16,969.59 1235.55,969.89 1239.93,970.18 1244.31,970.47 1248.69,970.75 1253.07,971.02 1257.45,971.29 1261.83,971.55 1266.21,971.8 1270.59,972.05 1274.98,972.29 1279.36,972.53 1283.74,972.76 1288.12,972.99 1292.5,973.21" fill="none" stroke="#0000ff" stroke-width="8.2" stroke-linecap="butt" stroke-linejoin="round"/>
<circle cx="1291.3" cy="973.21" r="4.1" fill="#0000ff"/>
<rect x="806" y="675.4" width="296.2" height="53.1" fill="#fff" stroke="#262626" stroke-width="1.6"/>
<rect x="822.4" y="689.7" width="24" height="24" fill="none" stroke="#ff0000" stroke-width="8.2"/>
<text x="860.4" y="716.0" font-family="'Liberation Sans', Arial, Helvetica, sans-serif" font-size="36">Meas</text>
<polyline points="958.2,701.7 1005.7,701.7" fill="none" stroke="#0000ff" stroke-width="8.2" stroke-linecap="butt" stroke-linejoin="round"/>
<text x="1007.9" y="716.0" font-family="'Liberation Sans', Arial, Helvetica, sans-serif" font-size="36">Fitted</text>
<g transform="translate(450.7,583.95) rotate(-90)" font-family="'Liberation Sans', Arial, Helvetica, sans-serif"><text x="-292.0" y="32.3" font-size="44">|S</text><text transform="translate(-251.7,53.9)" font-size="36">21</text><g transform="translate(-251.7,53.9)" fill="#fff"><rect x="21.96" y="-3.04" width="7.08" height="4.24"/><rect x="32.28" y="-3.04" width="6.83" height="4.24"/></g><text x="-212.0" y="32.3" font-size="44">|</text><text x="-201.7" y="53.9" font-size="36">dB</text></g>
<text x="454.3" y="1109.3" font-family="'Liberation Sans', Arial, Helvetica, sans-serif" font-size="40">(c)</text>
</svg></body></html>
